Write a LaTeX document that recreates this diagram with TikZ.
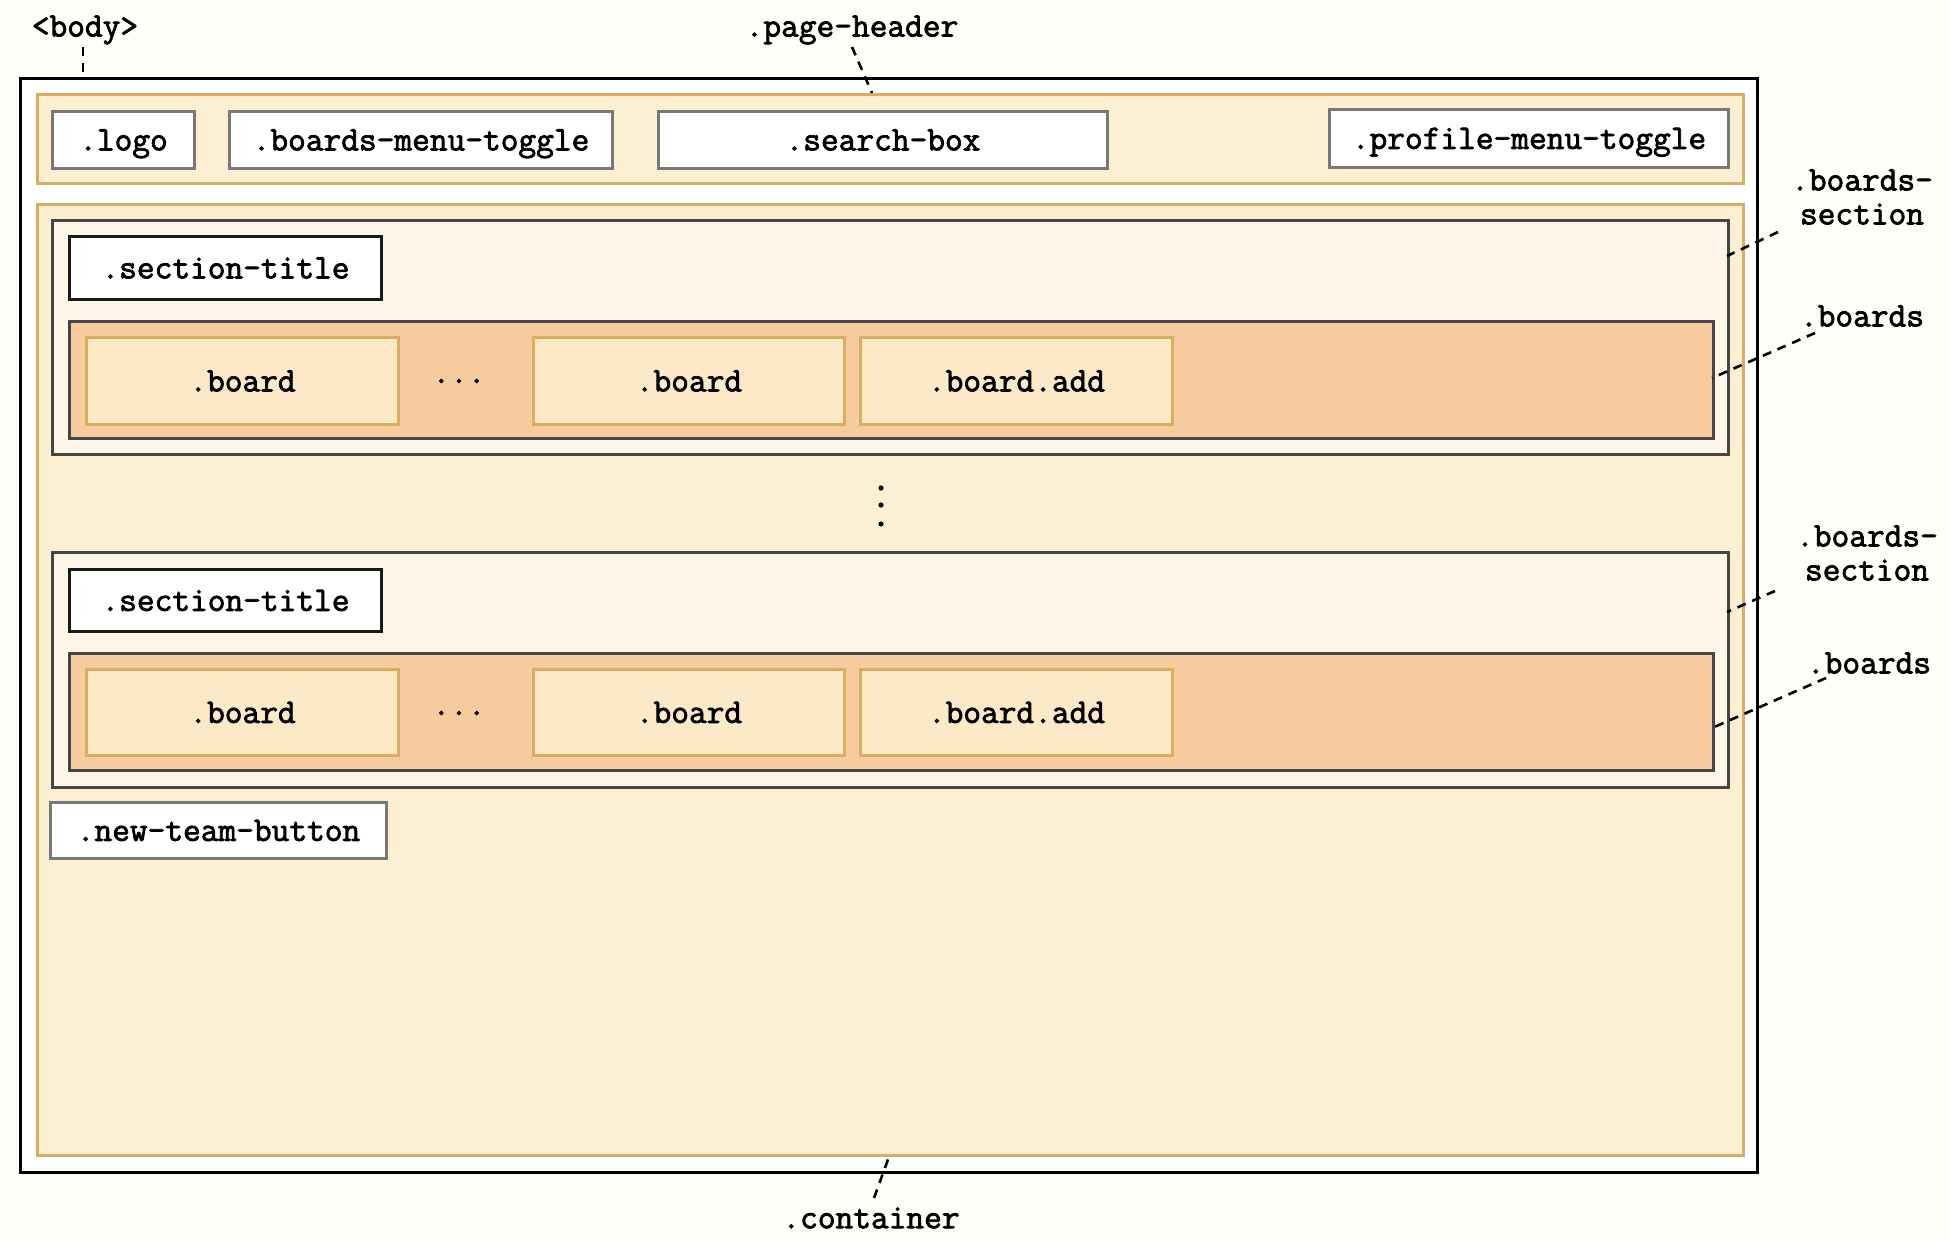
\documentclass[tikz,border=0pt]{standalone}
\usepackage{fontspec}
\newfontfamily\codefont{Latin Modern Mono}[FakeBold=2.2]
\definecolor{bgc}{HTML}{FFFEF8}
\definecolor{tanfill}{HTML}{FDEFD2}
\definecolor{tanline}{HTML}{D9AE5E}
\definecolor{secfill}{HTML}{FDF6E6}
\definecolor{darkline}{HTML}{464646}
\definecolor{peach}{HTML}{F6CB9E}
\definecolor{boardfill}{HTML}{FCE9C8}
\definecolor{grayline}{HTML}{787878}
\tikzset{
  px/.style={x=0.5pt,y=-0.5pt},
  lbl/.style={font=\codefont\bfseries\fontsize{17.2pt}{17pt}\selectfont, text=black},
  boxbase/.style={lbl, anchor=north west, inner sep=0pt, line width=1.5pt,
    text height=11.9pt, text depth=1.5pt},
  bodybox/.style={boxbase, draw=black, fill=white},
  tanbox/.style={boxbase, draw=tanline, fill=tanfill},
  secbox/.style={boxbase, draw=darkline, fill=secfill},
  peachbox/.style={boxbase, draw=darkline, fill=peach},
  boardbox/.style={boxbase, draw=tanline, fill=boardfill},
  whitebox/.style={boxbase, draw=grayline, fill=white},
  titlebox/.style={boxbase, draw=black!90, fill=white},
  leader/.style={draw=black, line width=1.3pt, dash pattern=on 4.5pt off 3.5pt},
  note/.style={lbl, inner sep=1pt, align=center},
  vdot/.style={circle, fill=black, inner sep=0pt, minimum size=2.6pt},
}
% \bx{name}{style}{x1}{y1}{x2}{y2}{text}
\newcommand{\bx}[7]{%
  \pgfmathsetmacro{\bw}{(#5-#3)*0.5}%
  \pgfmathsetmacro{\bh}{(#6-#4)*0.5}%
  \node[#2, minimum width=\bw pt, minimum height=\bh pt] (#1) at (#3,#4) {#7};}
\begin{document}
\begin{tikzpicture}[px]
\path[fill=bgc] (0,0) rectangle (1950,1241);
\useasboundingbox (0,0) rectangle (1950,1241);

\bx{body}{bodybox}{19}{77}{1756}{1171}{}
\bx{header}{tanbox}{36}{93}{1742}{182}{}
\bx{logo}{whitebox}{51}{110}{193}{167}{.logo}
\bx{bmt}{whitebox}{228}{110}{611}{167}{.boards-menu-toggle}
\bx{search}{whitebox}{657}{110}{1106}{167}{.search-box}
\bx{profile}{whitebox}{1328}{108}{1727}{166}{.profile-menu-toggle}
\bx{container}{tanbox}{36}{203}{1742}{1154}{}

\bx{bsA}{secbox}{51}{219}{1727}{453}{}
\bx{stA}{titlebox}{68}{235}{380}{298}{.section-title}
\bx{boardsA}{peachbox}{68}{320}{1712}{437}{}
\bx{bAa}{boardbox}{85}{336}{397}{423}{.board}
\node[lbl] (ellA) at (459,381) {...};
\bx{bAb}{boardbox}{532}{336}{843}{423}{.board}
\bx{addA}{boardbox}{859}{336}{1171}{423}{.board.add}

\node[vdot] (v1) at (881,488) {};
\node[vdot] (v2) at (881,505) {};
\node[vdot] (v3) at (881,524) {};

\bx{bsB}{secbox}{51}{551}{1727}{786}{}
\bx{stB}{titlebox}{68}{568}{380}{630}{.section-title}
\bx{boardsB}{peachbox}{68}{652}{1712}{769}{}
\bx{bBa}{boardbox}{85}{668}{397}{754}{.board}
\node[lbl] (ellB) at (459,713) {...};
\bx{bBb}{boardbox}{532}{668}{843}{754}{.board}
\bx{addB}{boardbox}{859}{668}{1171}{754}{.board.add}

\bx{ntb}{whitebox}{49}{801}{385}{857}{.new-team-button}

% labels
\node[note] (lbody) at (85,30) {<body>};
\node[note] (lheader) at (852,30) {.page-header};
\node[note] (lcont) at (871,1218) {.container};
\node[note] (lbsA) at (1862,197) {.boards-\\section};
\node[note] (lboardsA) at (1862,316) {.boards};
\node[note] (lbsB) at (1867,553) {.boards-\\section};
\node[note] (lboardsB) at (1869,663) {.boards};

% leader end points
\coordinate (cbody) at (83,77);
\coordinate (sbody) at (83,47);
\coordinate (cheader) at (872,93);
\coordinate (sheader) at (852,47);
\coordinate (ccont) at (890,1154);
\coordinate (scont) at (874,1198);
\coordinate (cbsA) at (1727,256);
\coordinate (sbsA) at (1778,232);
\coordinate (cboardsA) at (1712,378);
\coordinate (sboardsA) at (1815,333);
\coordinate (cbsB) at (1727,612);
\coordinate (sbsB) at (1775,591);
\coordinate (cboardsB) at (1712,728);
\coordinate (sboardsB) at (1826,678);

\draw[leader] (sbody) -- (cbody);
\draw[leader] (sheader) -- (cheader);
\draw[leader] (scont) -- (ccont);
\draw[leader] (sbsA) -- (cbsA);
\draw[leader] (sboardsA) -- (cboardsA);
\draw[leader] (sbsB) -- (cbsB);
\draw[leader] (sboardsB) -- (cboardsB);
\end{tikzpicture}
\end{document}
